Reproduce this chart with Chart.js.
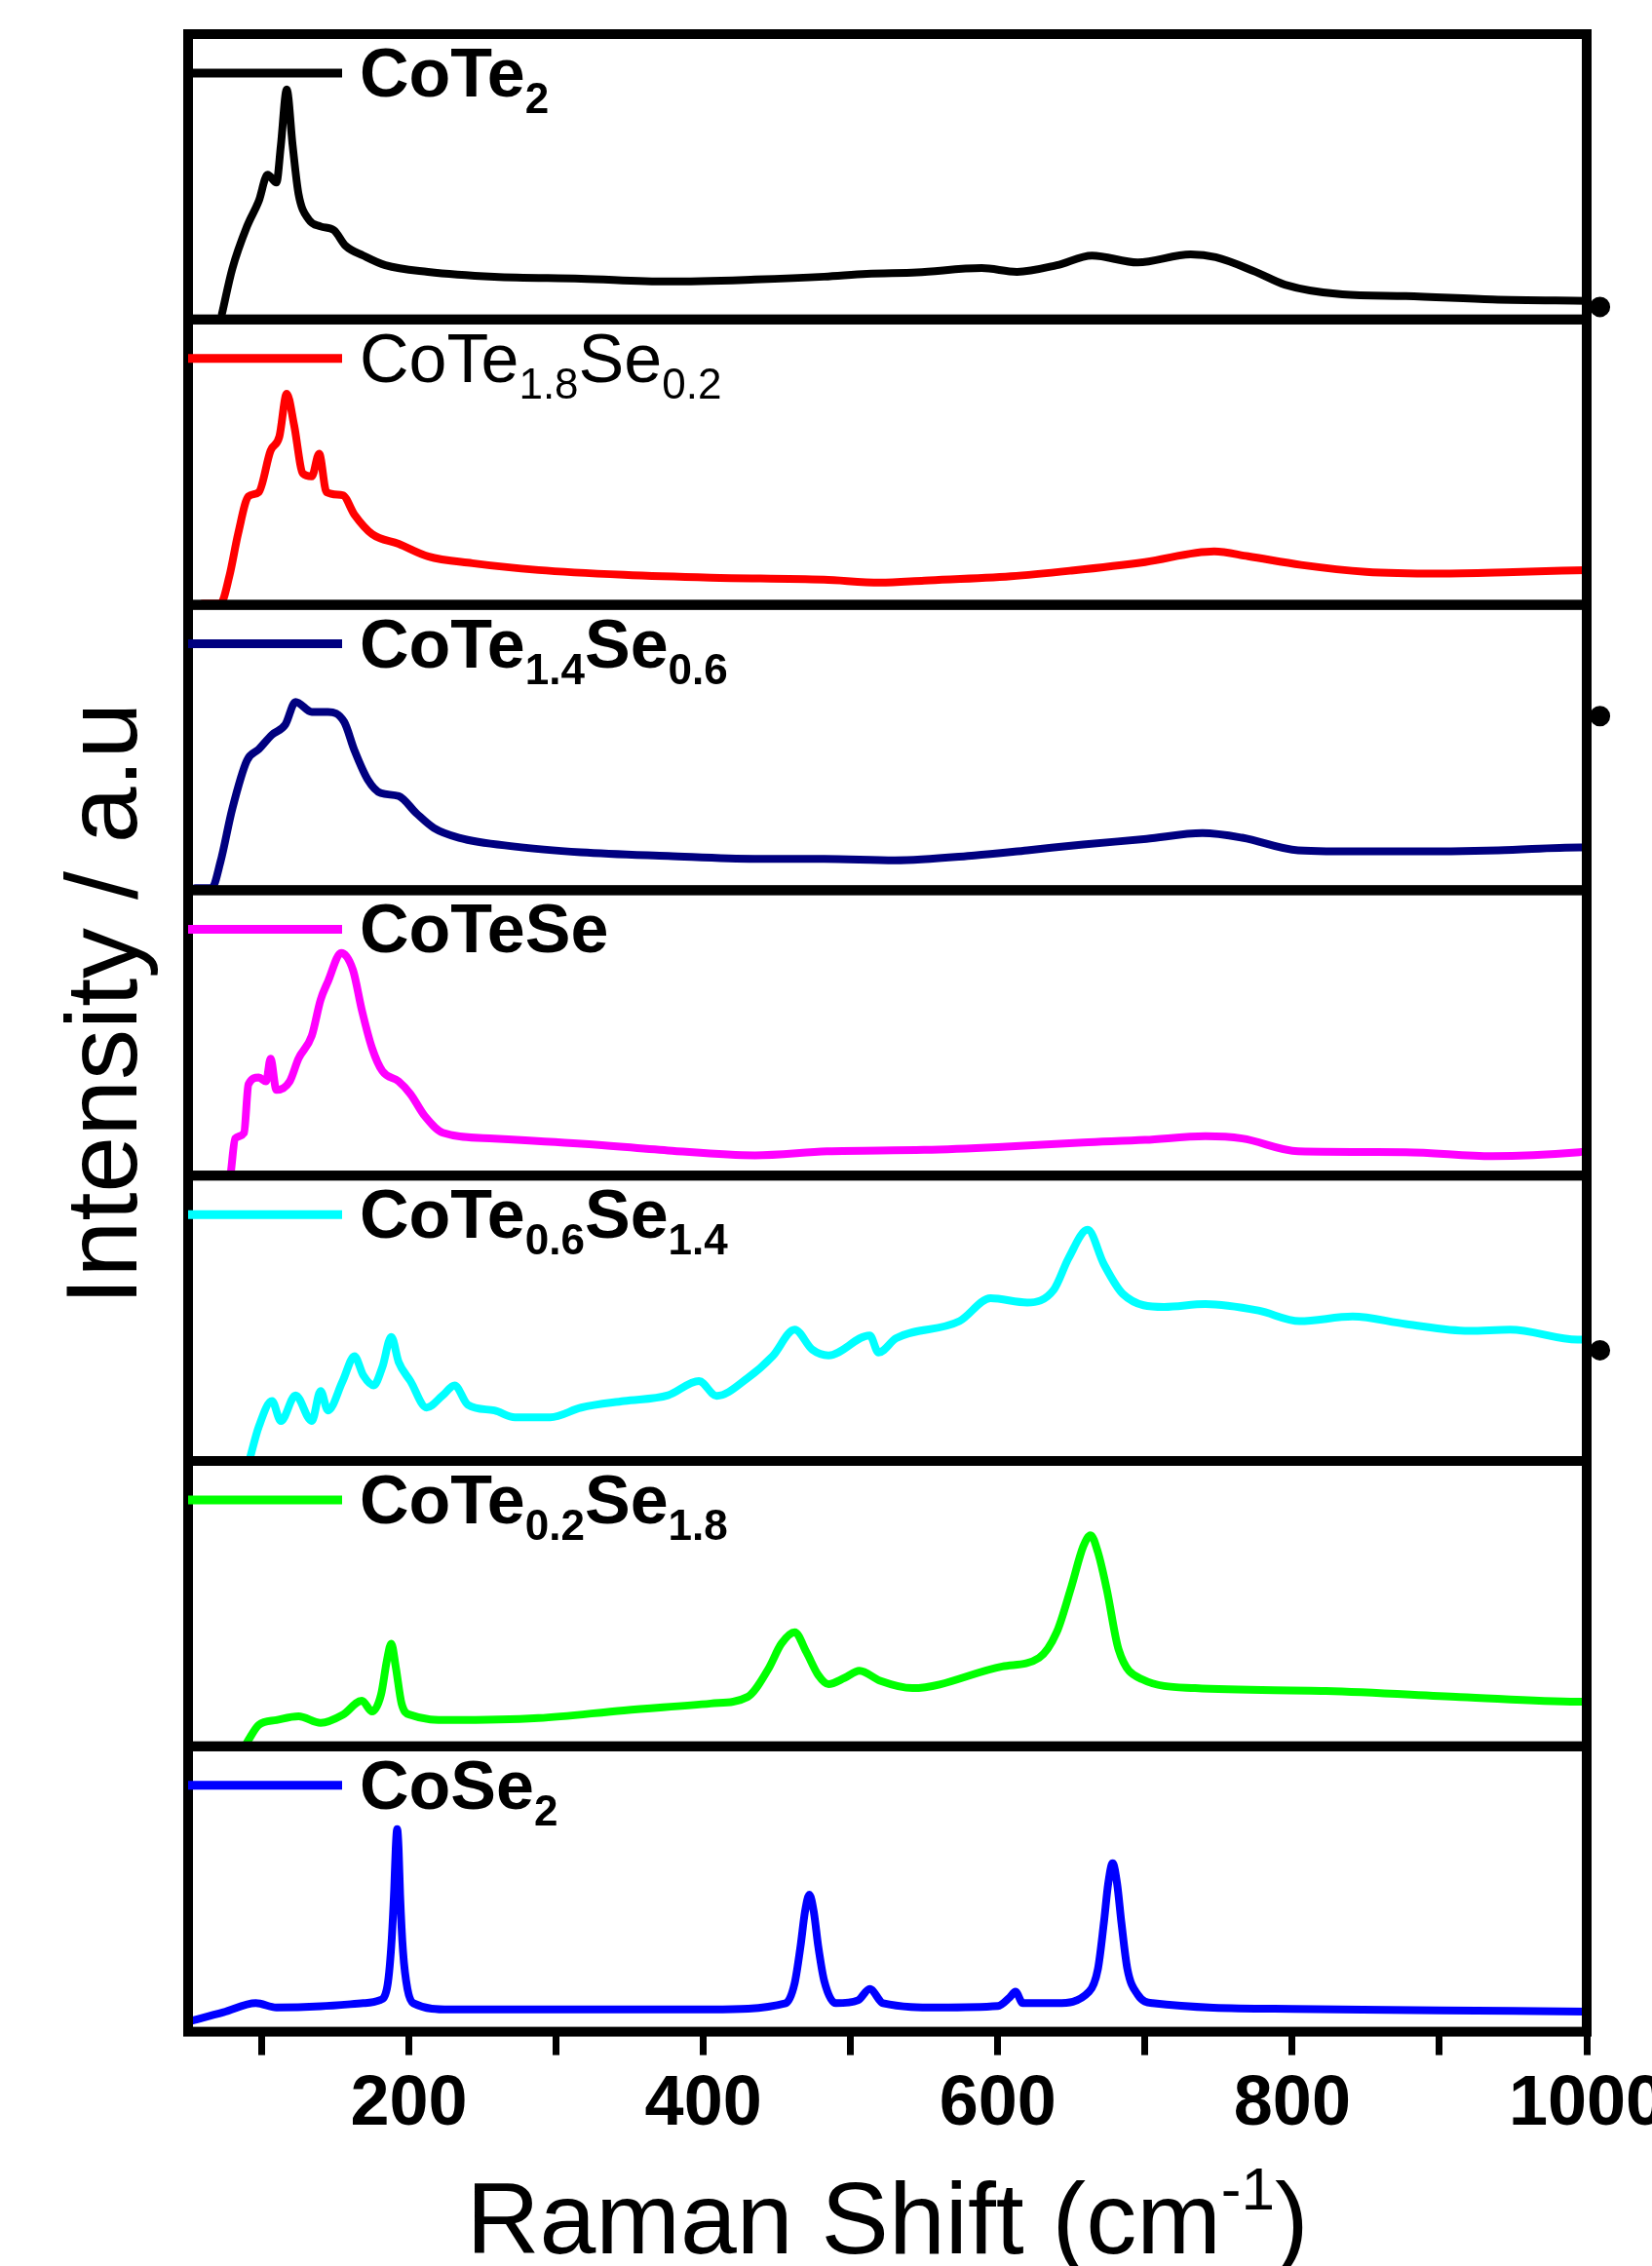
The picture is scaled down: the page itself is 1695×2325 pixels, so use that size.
<!DOCTYPE html>
<html>
<head>
<meta charset="utf-8">
<title>Raman spectra – CoTe2-xSex</title>
<script src="https://cdn.jsdelivr.net/npm/chart.js@4.4.1/dist/chart.umd.min.js"></script>
<style>
  html, body { margin: 0; padding: 0; background: #fff; }
  #wrap { width: 1695px; height: 2325px; }
</style>
</head>
<body>
<div id="wrap"><canvas id="raman" width="1695" height="2325"></canvas></div>
<script>
// ── Data (y is % of panel height) ──────────────────────────────────────────
const coTe2X = [73, 80, 90, 98, 104, 110, 113, 117, 121, 125, 132, 140, 149, 157, 169, 184, 213, 258, 317, 376, 435, 482, 511, 545, 589, 613, 640, 664, 695, 731, 748, 775, 795, 834, 877, 936, 1000];
const coTe2Y = [2, 17.7, 32.6, 41.5, 50.7, 48, 61, 80.6, 61, 44, 35, 32.6, 31.3, 25.8, 22.4, 19, 16.7, 15, 14.3, 13.3, 14, 15, 16, 16.5, 18, 16.7, 19, 22.4, 20, 22.8, 21.8, 16.7, 12.2, 8.8, 8.2, 7, 6.5];

const coTe18X = [60, 72, 78, 84, 91, 98, 106, 112, 117, 122, 128, 134, 139, 144, 155, 163, 175, 193, 213, 243, 288, 346, 405, 482, 520, 550, 609, 650, 700, 747, 770, 806, 850, 900, 950, 1000];
const coTe18Y = [0.5, 0.5, 10, 25, 38, 39.5, 54, 59, 74, 63, 46, 45, 53, 39.5, 38.4, 31.6, 24.8, 21.4, 17, 14.6, 12.2, 10.5, 9.5, 8.8, 7.8, 8.5, 10, 12, 15, 18.7, 17, 14, 11.6, 11, 11.5, 12.2];

const coTe14X = [55, 66, 72, 80, 90, 98, 107, 116, 123, 134, 145, 156, 163, 172, 181, 193, 205, 217, 234, 272, 317, 376, 435, 482, 530, 584, 620, 658, 701, 739, 766, 804, 850, 877, 940, 995, 1000];
const coTe14Y = [0.7, 0.7, 10, 28.5, 45.5, 49.4, 54.5, 58, 66, 62.5, 62.5, 59, 49, 38.8, 34, 33, 27, 21.8, 18.4, 15.3, 13.3, 12, 11, 11, 10.5, 12.2, 14, 16, 18, 20, 18.4, 14, 13.6, 13.6, 14, 15, 15];

const coTeSeX = [79, 82, 88, 91, 98, 103, 106, 110, 119, 125, 134, 140, 145, 154, 162, 168, 175, 182, 193, 201, 211, 223, 258, 317, 376, 435, 484, 550, 600, 658, 700, 741, 766, 804, 877, 936, 995, 1000];
const coTeSeY = [1, 13, 15, 32, 34.4, 33, 41, 30, 33, 41, 49, 61.6, 68, 78, 72, 58, 44.6, 36.6, 33, 28.6, 20.7, 15, 13, 11.2, 8.8, 7.1, 8.5, 9, 10, 11.6, 12.5, 13.8, 13, 8.5, 8.2, 6.8, 8.2, 8.5];

const coTe06X = [92, 98, 107, 113, 123, 134, 140, 145, 155, 163, 169, 176, 182, 188, 193, 201, 212, 223, 231, 240, 258, 272, 296, 317, 346, 376, 397, 409, 430, 447, 462, 474, 485, 513, 519, 531, 574, 595, 620, 638, 648, 661, 672, 685, 713, 741, 777, 805, 841, 877, 920, 948, 994, 1000];
const coTe06Y = [1, 12, 21, 14, 23, 14, 24.5, 17.7, 28, 36.7, 30, 26.5, 33, 43.5, 34.7, 28, 18.7, 23, 26.5, 19.7, 17.7, 15.3, 15.3, 18.7, 21, 23, 28, 22.8, 29, 36.7, 46, 39, 37, 44, 38, 43, 49, 57, 55.5, 60, 71, 81, 69, 58.5, 54, 55, 52.7, 49, 50.6, 48, 45.6, 46, 42.5, 42.5];

const coTe02X = [90, 98, 110, 125, 140, 155, 168, 175, 181, 185, 188, 191, 195, 201, 228, 288, 346, 405, 430, 444, 453, 462, 470, 478, 485, 496, 506, 520, 542, 603, 628, 640, 650, 658, 663, 668, 674, 682, 698, 734, 823, 914, 994, 1000];
const coTe02Y = [1.4, 7.5, 9.2, 10.5, 8.2, 11, 16, 12.2, 18, 30, 36, 28, 15, 11, 9.2, 9.9, 12.6, 15, 17.3, 27, 36, 40, 33, 25, 21.8, 24, 26.5, 23, 20.4, 28, 31, 40, 56, 70, 74, 68, 55, 34, 23.5, 20.4, 19.4, 17.3, 15.6, 15.6];

const coSe2X = [51, 74, 96, 110, 140, 169, 180, 185, 188, 190, 191, 192, 193, 194, 196, 199, 203, 228, 317, 405, 456, 462, 466, 469, 472, 475, 478, 482, 490, 505, 513, 522, 560, 600, 608, 612, 617, 640, 662, 668, 672, 675, 678, 681, 684, 688, 695, 705, 800, 900, 1000];
const coSe2Y = [3.7, 6.8, 10, 8.5, 8.9, 10, 11, 15, 30, 50, 64, 71, 64, 48, 28, 15, 10, 7.8, 7.8, 7.8, 10, 17, 30, 42, 48, 42, 30, 18, 10, 11, 15, 10, 8.5, 9, 12, 14, 10, 10, 14, 22, 38, 52, 59, 52, 38, 22, 13, 10, 8, 7.5, 7];

// stray dots right of the frame (panel index, x, y)
const dotPanels = [0, 2, 4];
const dotX = [1009, 1009, 1009];
const dotY = [4.4, 61, 38.8];

const seriesX = [coTe2X, coTe18X, coTe14X, coTeSeX, coTe06X, coTe02X, coSe2X];
const seriesY = [coTe2Y, coTe18Y, coTe14Y, coTeSeY, coTe06Y, coTe02Y, coSe2Y];

// label pieces: [text, isSubscript]
const panelLabels = [
  [['CoTe', 0], ['2', 1]],
  [['CoTe', 0], ['1.8', 1], ['Se', 0], ['0.2', 1]],
  [['CoTe', 0], ['1.4', 1], ['Se', 0], ['0.6', 1]],
  [['CoTeSe', 0]],
  [['CoTe', 0], ['0.6', 1], ['Se', 0], ['1.4', 1]],
  [['CoTe', 0], ['0.2', 1], ['Se', 0], ['1.8', 1]],
  [['CoSe', 0], ['2', 1]]
];
const panelBold = [true, false, true, true, true, true, true];
const panelColors = ['#000000', '#ff0000', '#000080', '#ff00ff', '#00ffff', '#00ff00', '#0000ff'];

const xTickValues = [100, 200, 300, 400, 500, 600, 700, 800, 900, 1000];
const xTickLabels = ['', '200', '', '400', '', '600', '', '800', '', '1000'];

const FONT = '"Liberation Sans", Arial, Helvetica, sans-serif';

// ── Helpers ────────────────────────────────────────────────────────────────
function drawRich(ctx, x, y, segs, bold) {
  const w = bold ? 'bold ' : '';
  segs.forEach(([txt, sub]) => {
    ctx.font = w + (sub ? 44 : 70) + 'px ' + FONT;
    ctx.fillText(txt, x, y + (sub ? 17 : 0));
    x += ctx.measureText(txt).width;
  });
}

// frames, in-panel legends and axis titles
const panelDecor = {
  id: 'panelDecor',
  afterDatasetsDraw(chart) {
    const ctx = chart.ctx;
    const area = chart.chartArea;
    ctx.save();
    panelLabels.forEach((segs, i) => {
      const s = chart.scales['y' + i];
      ctx.strokeStyle = '#000';
      ctx.lineWidth = 10;
      ctx.strokeRect(area.left, s.top, area.right - area.left, s.bottom - s.top);

      ctx.strokeStyle = panelColors[i];
      ctx.lineWidth = 9;
      ctx.lineCap = 'butt';
      ctx.beginPath();
      ctx.moveTo(area.left, s.top + 40);
      ctx.lineTo(area.left + 158, s.top + 40);
      ctx.stroke();

      ctx.fillStyle = '#000';
      ctx.textBaseline = 'alphabetic';
      ctx.textAlign = 'left';
      drawRich(ctx, area.left + 176, s.top + 64, segs, panelBold[i]);
    });
    ctx.restore();
  },
  afterDraw(chart) {
    const ctx = chart.ctx;
    const area = chart.chartArea;
    ctx.save();
    ctx.fillStyle = '#000';
    ctx.textBaseline = 'alphabetic';

    // y title
    ctx.translate(140, 1030);
    ctx.rotate(-Math.PI / 2);
    ctx.textAlign = 'center';
    ctx.font = '104px ' + FONT;
    ctx.fillText('Intensity / a.u', 0, 0);
    ctx.setTransform(1, 0, 0, 1, 0, 0);

    // x title with superscript
    ctx.textAlign = 'left';
    const main = 'Raman Shift (cm', sup = '-1', close = ')';
    ctx.font = '104px ' + FONT;
    const wMain = ctx.measureText(main).width;
    const wClose = ctx.measureText(close).width;
    ctx.font = '62px ' + FONT;
    const wSup = ctx.measureText(sup).width;
    let x = (area.left + area.right) / 2 - (wMain + wSup + wClose) / 2;
    const base = 2312;
    ctx.font = '104px ' + FONT;
    ctx.fillText(main, x, base);
    x += wMain;
    ctx.font = '62px ' + FONT;
    ctx.fillText(sup, x, base - 45);
    x += wSup;
    ctx.font = '104px ' + FONT;
    ctx.fillText(close, x, base);
    ctx.restore();
  }
};

// ── Chart ──────────────────────────────────────────────────────────────────
const scales = {
  x: {
    type: 'linear',
    position: 'bottom',
    min: 50,
    max: 1000,
    afterBuildTicks: s => { s.ticks = xTickValues.map(v => ({ value: v })); },
    afterFit: s => { s.paddingLeft = 0; s.paddingRight = 0; },
    ticks: {
      autoSkip: false,
      maxRotation: 0,
      padding: 8,
      color: '#000',
      font: { family: FONT, size: 72, weight: 'bold' },
      callback: (v, idx) => xTickLabels[idx]
    },
    grid: { display: true, drawOnChartArea: false, drawTicks: true, tickLength: 24, tickWidth: 7, tickColor: '#000' },
    border: { display: false }
  }
};
panelLabels.forEach((_, i) => {
  scales['y' + i] = {
    type: 'linear',
    position: 'left',
    stack: 'panels',
    stackWeight: 1,
    weight: 7 - i,
    min: 0,
    max: 100,
    ticks: { display: false },
    grid: { display: false, drawTicks: false },
    border: { display: false },
    title: { display: false }
  };
});

const datasets = seriesX.map((xs, i) => ({
  type: 'line',
  data: xs.map((x, k) => ({ x, y: seriesY[i][k] })),
  borderColor: panelColors[i],
  borderWidth: 8,
  borderJoinStyle: 'round',
  borderCapStyle: 'round',
  cubicInterpolationMode: 'monotone',
  pointRadius: 0,
  xAxisID: 'x',
  yAxisID: 'y' + i
}));
// dots sit just past the right frame; a thick border widens the in-area margin
// Chart.js allows before skipping a point, so they still get drawn
dotX.forEach((x, k) => {
  datasets.push({
    type: 'scatter',
    data: [{ x, y: dotY[k] }],
    backgroundColor: '#000',
    borderColor: '#000',
    borderWidth: 9,
    pointRadius: 6,
    clip: false,
    xAxisID: 'x',
    yAxisID: 'y' + dotPanels[k]
  });
});

new Chart(document.getElementById('raman').getContext('2d'), {
  type: 'line',
  data: { datasets },
  options: {
    responsive: false,
    devicePixelRatio: 1,
    animation: false,
    layout: { padding: { left: 193, right: 67, top: 35, bottom: 114 } },
    plugins: { legend: { display: false }, tooltip: { enabled: false } },
    scales
  },
  plugins: [panelDecor]
});
</script>
</body>
</html>
